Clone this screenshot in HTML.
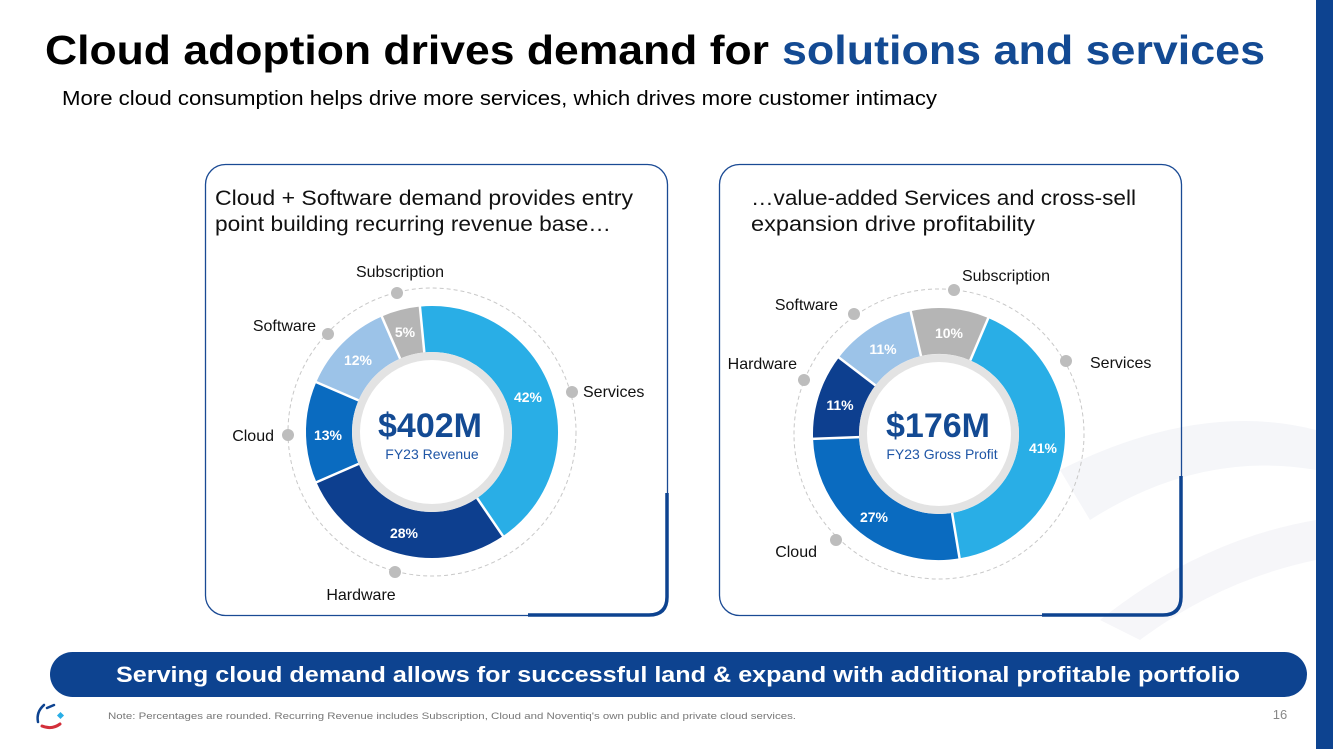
<!DOCTYPE html>
<html><head><meta charset="utf-8"><style>
html,body{margin:0;padding:0;background:#fff;}
svg{display:block;font-family:"Liberation Sans",sans-serif;}
</style></head><body>
<svg width="1333" height="749" viewBox="0 0 1333 749" xmlns="http://www.w3.org/2000/svg">
<!-- faint background swooshes -->
<path d="M1060 470 Q1200 400 1316 430 L1316 470 Q1200 450 1090 520 Z" fill="#f5f6f9"/>
<path d="M1100 620 Q1200 540 1316 520 L1316 560 Q1220 580 1140 640 Z" fill="#f6f6f9"/>
<rect x="1316" y="0" width="17" height="749" fill="#0d4390"/>

<text x="45" y="64" font-size="41" font-weight="bold" fill="#000" textLength="724" lengthAdjust="spacingAndGlyphs">Cloud adoption drives demand for</text>
<text x="782" y="64" font-size="41" font-weight="bold" fill="#134a93" textLength="483" lengthAdjust="spacingAndGlyphs">solutions and services</text>
<text x="62" y="105" font-size="20" fill="#000" textLength="875" lengthAdjust="spacingAndGlyphs">More cloud consumption helps drive more services, which drives more customer intimacy</text>

<!-- panels -->
<rect x="205.5" y="164.5" width="462" height="451" rx="20" fill="none" stroke="#1a4a94" stroke-width="1.3"/>
<path d="M667 493 L667 597 Q667 615 649 615 L528 615" fill="none" stroke="#0d4390" stroke-width="3.5"/>
<rect x="719.5" y="164.5" width="462" height="451" rx="20" fill="none" stroke="#1a4a94" stroke-width="1.3"/>
<path d="M1181 476 L1181 597 Q1181 615 1163 615 L1042 615" fill="none" stroke="#0d4390" stroke-width="3.5"/>

<g font-size="21" fill="#111">
<text x="215" y="205" textLength="418" lengthAdjust="spacingAndGlyphs">Cloud + Software demand provides entry</text>
<text x="215" y="231" textLength="396" lengthAdjust="spacingAndGlyphs">point building recurring revenue base…</text>
<text x="751" y="205" textLength="385" lengthAdjust="spacingAndGlyphs">…value-added Services and cross-sell</text>
<text x="751" y="231" textLength="284" lengthAdjust="spacingAndGlyphs">expansion drive profitability</text>
</g>

<!-- LEFT DONUT -->
<g>
<circle cx="432" cy="432" r="144" fill="none" stroke="#c8c8c8" stroke-width="1" stroke-dasharray="4 3"/>
<g transform="rotate(-95.5 432 432)" fill="none" stroke-width="46">
<circle cx="432" cy="432" r="103" pathLength="100" stroke="#29aee6" stroke-dasharray="42 100" stroke-dashoffset="0"/>
<circle cx="432" cy="432" r="103" pathLength="100" stroke="#0d3f8f" stroke-dasharray="28 100" stroke-dashoffset="-42"/>
<circle cx="432" cy="432" r="103" pathLength="100" stroke="#0a6bc0" stroke-dasharray="13 100" stroke-dashoffset="-70"/>
<circle cx="432" cy="432" r="103" pathLength="100" stroke="#9cc3e8" stroke-dasharray="12 100" stroke-dashoffset="-83"/>
<circle cx="432" cy="432" r="103" pathLength="100" stroke="#b5b5b5" stroke-dasharray="5 100" stroke-dashoffset="-95"/>
</g>
<g stroke="#fff" stroke-width="2.5">
<line x1="432" y1="352" x2="432" y2="305" transform="rotate(-5.5 432 432)"/>
<line x1="432" y1="352" x2="432" y2="305" transform="rotate(145.7 432 432)"/>
<line x1="432" y1="352" x2="432" y2="305" transform="rotate(246.5 432 432)"/>
<line x1="432" y1="352" x2="432" y2="305" transform="rotate(293.3 432 432)"/>
<line x1="432" y1="352" x2="432" y2="305" transform="rotate(336.5 432 432)"/>
</g>
<circle cx="432" cy="432" r="80" fill="#e3e3e3"/>
<circle cx="432" cy="432" r="72" fill="#fff"/>
<text x="430" y="437" font-size="34" font-weight="bold" fill="#134a93" text-anchor="middle">$402M</text>
<text x="432" y="459" font-size="14" fill="#1f56a6" text-anchor="middle">FY23 Revenue</text>
<g font-size="14" font-weight="bold" fill="#fff" text-anchor="middle">
<text x="528" y="402">42%</text><text x="404" y="538">28%</text><text x="328" y="440">13%</text><text x="358" y="365">12%</text><text x="405" y="337">5%</text>
</g>
<g fill="#bdbdbd"><circle cx="397" cy="293" r="6"/><circle cx="328" cy="334" r="6"/><circle cx="288" cy="435" r="6"/><circle cx="572" cy="392" r="6"/><circle cx="395" cy="572" r="6"/></g>
<g font-size="16" fill="#111">
<text x="400" y="277" text-anchor="middle">Subscription</text>
<text x="316" y="331" text-anchor="end">Software</text>
<text x="274" y="441" text-anchor="end">Cloud</text>
<text x="583" y="397">Services</text>
<text x="361" y="600" text-anchor="middle">Hardware</text>
</g>
</g>

<!-- RIGHT DONUT -->
<g>
<circle cx="939" cy="434" r="145" fill="none" stroke="#c8c8c8" stroke-width="1" stroke-dasharray="4 3"/>
<g transform="rotate(-67 939 434)" fill="none" stroke-width="46">
<circle cx="939" cy="434" r="103" pathLength="100" stroke="#29aee6" stroke-dasharray="41 100" stroke-dashoffset="0"/>
<circle cx="939" cy="434" r="103" pathLength="100" stroke="#0a6bc0" stroke-dasharray="27 100" stroke-dashoffset="-41"/>
<circle cx="939" cy="434" r="103" pathLength="100" stroke="#0d3f8f" stroke-dasharray="11 100" stroke-dashoffset="-68"/>
<circle cx="939" cy="434" r="103" pathLength="100" stroke="#9cc3e8" stroke-dasharray="11 100" stroke-dashoffset="-79"/>
<circle cx="939" cy="434" r="103" pathLength="100" stroke="#b5b5b5" stroke-dasharray="10 100" stroke-dashoffset="-90"/>
</g>
<g stroke="#fff" stroke-width="2.5">
<line x1="939" y1="354" x2="939" y2="307" transform="rotate(23 939 434)"/>
<line x1="939" y1="354" x2="939" y2="307" transform="rotate(170.6 939 434)"/>
<line x1="939" y1="354" x2="939" y2="307" transform="rotate(267.8 939 434)"/>
<line x1="939" y1="354" x2="939" y2="307" transform="rotate(307.4 939 434)"/>
<line x1="939" y1="354" x2="939" y2="307" transform="rotate(347 939 434)"/>
</g>
<circle cx="939" cy="434" r="80" fill="#e3e3e3"/>
<circle cx="939" cy="434" r="72" fill="#fff"/>
<text x="938" y="437" font-size="34" font-weight="bold" fill="#134a93" text-anchor="middle">$176M</text>
<text x="942" y="459" font-size="14" fill="#1f56a6" text-anchor="middle">FY23 Gross Profit</text>
<g font-size="14" font-weight="bold" fill="#fff" text-anchor="middle">
<text x="1043" y="453">41%</text><text x="874" y="522">27%</text><text x="840" y="410">11%</text><text x="883" y="354">11%</text><text x="949" y="338">10%</text>
</g>
<g fill="#bdbdbd"><circle cx="954" cy="290" r="6"/><circle cx="854" cy="314" r="6"/><circle cx="804" cy="380" r="6"/><circle cx="1066" cy="361" r="6"/><circle cx="836" cy="540" r="6"/></g>
<g font-size="16" fill="#111">
<text x="962" y="281">Subscription</text>
<text x="838" y="310" text-anchor="end">Software</text>
<text x="797" y="369" text-anchor="end">Hardware</text>
<text x="1090" y="368">Services</text>
<text x="817" y="557" text-anchor="end">Cloud</text>
</g>
</g>

<!-- banner -->
<rect x="50" y="652" width="1257" height="45" rx="22.5" fill="#0d4390"/>
<text x="678" y="682" font-size="22" font-weight="bold" fill="#fff" text-anchor="middle" textLength="1124" lengthAdjust="spacingAndGlyphs">Serving cloud demand allows for successful land &amp; expand with additional profitable portfolio</text>

<!-- footer -->
<g fill="none" stroke-linecap="round">
<path d="M44 705 Q36 712 38 722" stroke="#0d4390" stroke-width="2.5"/>
<path d="M47 708 L54 705" stroke="#0d4390" stroke-width="2.5"/>
<path d="M42 726 Q52 730 60 724" stroke="#d32f3a" stroke-width="3"/>
</g>
<rect x="58" y="713" width="5" height="5" fill="#29aee6" transform="rotate(45 60.5 715.5)"/>
<text x="108" y="719" font-size="9.5" fill="#777" textLength="688" lengthAdjust="spacingAndGlyphs">Note: Percentages are rounded. Recurring Revenue includes Subscription, Cloud and Noventiq's own public and private cloud services.</text>
<text x="1280" y="719" font-size="13" fill="#888" text-anchor="middle">16</text>
</svg>
</body></html>
